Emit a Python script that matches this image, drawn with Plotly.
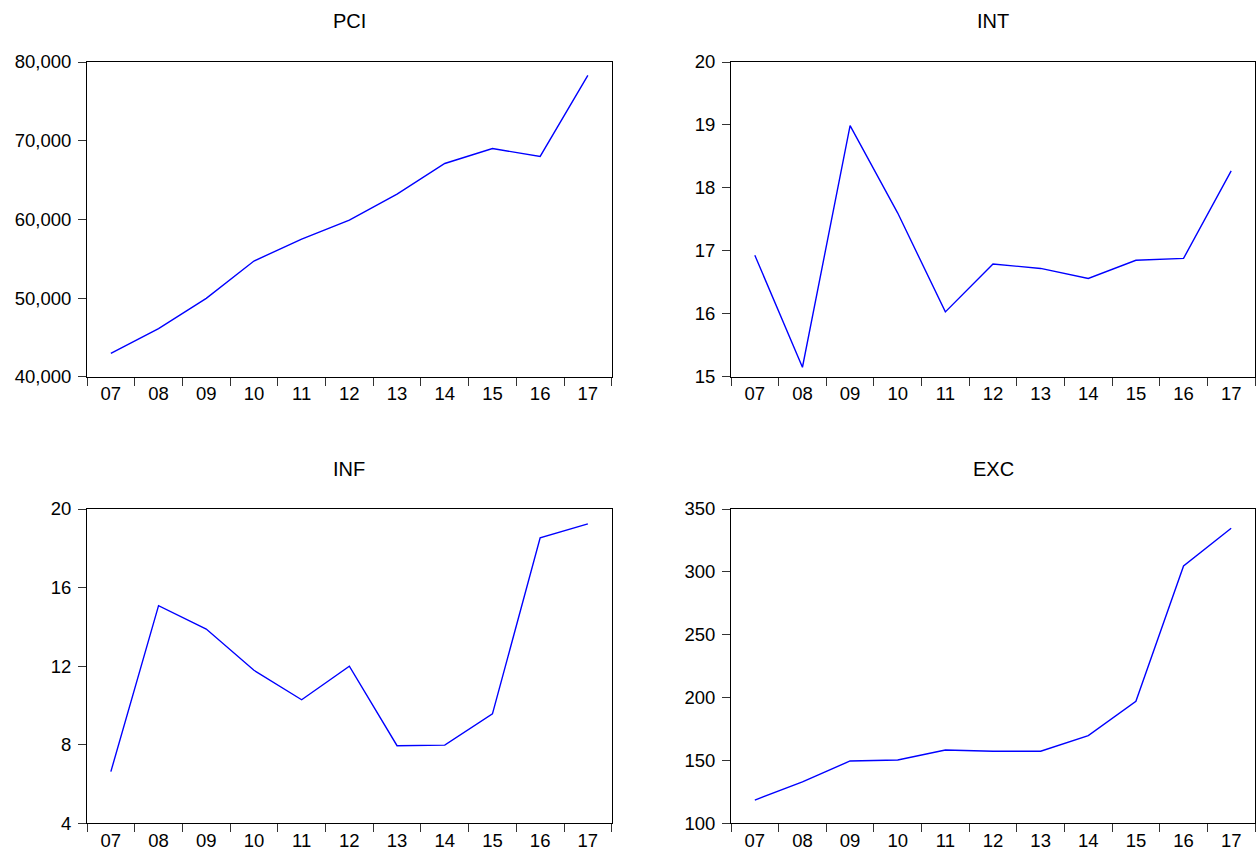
import plotly.graph_objects as go

years = ["07", "08", "09", "10", "11", "12", "13", "14", "15", "16", "17"]
pci = [42970, 46100, 49960, 54700, 57500, 59900, 63200, 67100, 69000, 68000, 78300]
int_rate = [16.93, 15.15, 18.99, 17.60, 16.03, 16.79, 16.72, 16.56, 16.85, 16.88, 18.27]
inf = [6.63, 15.08, 13.89, 11.79, 10.29, 12.00, 7.95, 7.98, 9.57, 18.53, 19.24]
exc = [118.5, 132.9, 149.6, 150.4, 158.3, 157.3, 157.3, 169.7, 197.0, 304.7, 334.7]

titles = ["PCI", "INT", "INF", "EXC"]
series = [pci, int_rate, inf, exc]
y_ticks = [
    [40000, 50000, 60000, 70000, 80000],
    [15, 16, 17, 18, 19, 20],
    [4, 8, 12, 16, 20],
    [100, 150, 200, 250, 300, 350],
]

W, H = 1256, 852
xdoms = [[87 / W, 611.7 / W], [731 / W, 1255 / W]]
ydoms = [[1 - 376.7 / H, 1 - 62 / H], [1 - 823.3 / H, 1 - 509 / H]]

fig = go.Figure()
fam = "Liberation Sans, Arial, sans-serif"
font = dict(family=fam, size=18.5, color="black")

for i, (t, s, tv) in enumerate(zip(titles, series, y_ticks)):
    row, col = divmod(i, 2)
    n = i + 1
    xa = "x" if n == 1 else f"x{n}"
    ya = "y" if n == 1 else f"y{n}"
    fig.add_trace(go.Scatter(x=years, y=s, mode="lines",
                             line=dict(color="#0000ff", width=1.4),
                             xaxis=xa, yaxis=ya, showlegend=False))
    xkey = "xaxis" if n == 1 else f"xaxis{n}"
    ykey = "yaxis" if n == 1 else f"yaxis{n}"
    fig.update_layout(**{
        xkey: dict(domain=xdoms[col], anchor=ya, type="category",
                   tickson="boundaries", ticks="outside", ticklen=8,
                   tickcolor="#333333", tickwidth=1,
                   showline=True, linecolor="black", linewidth=1, mirror=True,
                   showgrid=False, zeroline=False, tickfont=font,
                   range=[-0.5, 10.5], automargin=False),
        ykey: dict(domain=ydoms[row], anchor=xa,
                   range=[tv[0], tv[-1]], tickvals=tv,
                   tickformat=",d", ticks="outside", ticklen=8,
                   tickcolor="#333333", tickwidth=1, ticklabelstandoff=3,
                   showline=True, linecolor="black", linewidth=1, mirror=True,
                   showgrid=False, zeroline=False, tickfont=font,
                   automargin=False),
    })
    xc = (xdoms[col][0] + xdoms[col][1]) / 2
    yt = 1 - 21 / H if row == 0 else 1 - 469 / H
    fig.add_annotation(text=t, x=xc, y=yt, xref="paper", yref="paper",
                       xanchor="center", yanchor="middle", showarrow=False,
                       font=dict(family=fam, size=20, color="black"))

fig.update_layout(width=W, height=H, margin=dict(l=0, r=0, t=0, b=0, pad=0),
                  paper_bgcolor="white", plot_bgcolor="white")

fig.write_html("out.html", config={"displayModeBar": False},
               post_script="document.body.style.margin='0';document.body.style.overflow='hidden';")
